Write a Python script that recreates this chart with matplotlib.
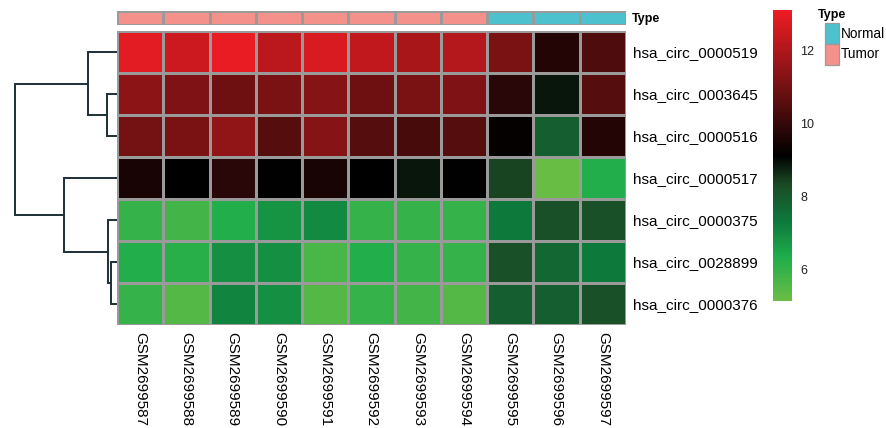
import numpy as np
import matplotlib
matplotlib.use("Agg")
import matplotlib.pyplot as plt
from matplotlib.colors import LinearSegmentedColormap, ListedColormap
from matplotlib.patches import Rectangle

plt.rcParams['font.family'] = ['Liberation Sans', 'DejaVu Sans']

# ---- data -------------------------------------------------------------
samples = ["GSM2699587", "GSM2699588", "GSM2699589", "GSM2699590",
           "GSM2699591", "GSM2699592", "GSM2699593", "GSM2699594",
           "GSM2699595", "GSM2699596", "GSM2699597"]
sample_type = ["Tumor"] * 8 + ["Normal"] * 3
circ_rnas = ["hsa_circ_0000519", "hsa_circ_0003645", "hsa_circ_0000516",
             "hsa_circ_0000517", "hsa_circ_0000375", "hsa_circ_0028899",
             "hsa_circ_0000376"]

expr_0000519 = [12.9, 12.5, 13.0, 12.2, 12.7, 12.3, 11.9, 12.1, 11.1, 9.7, 10.4]
expr_0003645 = [11.4, 11.2, 10.9, 11.1, 11.3, 10.9, 11.1, 11.2, 9.8, 8.9, 10.5]
expr_0000516 = [11.0, 11.1, 11.5, 10.5, 11.3, 10.5, 10.3, 10.5, 9.2, 7.9, 9.7]
expr_0000517 = [9.5, 9.15, 9.8, 9.1, 9.5, 9.15, 8.9, 9.1, 8.4, 5.2, 6.3]
expr_0000375 = [6.0, 5.8, 6.3, 6.8, 7.0, 6.0, 6.0, 6.0, 7.3, 8.2, 8.2]
expr_0028899 = [6.3, 6.2, 6.9, 6.9, 5.7, 6.3, 6.0, 6.0, 8.2, 7.7, 7.3]
expr_0000376 = [6.0, 5.5, 7.1, 6.9, 5.5, 6.0, 5.8, 5.5, 7.9, 7.9, 8.2]

# row clustering: (left, right, height); leaves 0..6, merged nodes 7..
row_merges = [(1, 2, 10), (0, 7, 29), (5, 6, 6), (4, 9, 9), (3, 10, 53), (8, 11, 102)]

colorbar_ticks = [6, 8, 10, 12]
value_range = (5.15, 13.1)

type_levels = ["Normal", "Tumor"]
type_colors = {"Normal": "#4DC1CD", "Tumor": "#F4918A"}

# ---- figure -----------------------------------------------------------
W, H = 886, 428
fig = plt.figure(figsize=(W / 100, H / 100), dpi=100, facecolor="white")

def px_axes(x0, y0, x1, y1):
    return fig.add_axes([x0 / W, 1 - y1 / H, (x1 - x0) / W, (y1 - y0) / H])

matrix = np.array([expr_0000519, expr_0003645, expr_0000516, expr_0000517,
                   expr_0000375, expr_0028899, expr_0000376])
n_rows, n_cols = matrix.shape

cmap = LinearSegmentedColormap.from_list("gbr", [
    (0.00, "#6ABD45"),
    (0.15, "#1FAD4B"),
    (0.27, "#0D7A3C"),
    (0.40, "#1B4A25"),
    (0.50, "#000000"),
    (0.75, "#7A1214"),
    (1.00, "#EE1C24"),
])

grid_col = "#9A9A9A"

# heatmap
ax = px_axes(117, 31, 626, 325)
mesh = ax.pcolormesh(matrix, cmap=cmap, vmin=value_range[0], vmax=value_range[1],
                     edgecolors=grid_col, linewidth=0.75)
ax.set_xlim(0, n_cols)
ax.set_ylim(n_rows, 0)
ax.set_yticks(np.arange(n_rows) + 0.5)
ax.set_yticklabels(circ_rnas, fontsize=11)
ax.yaxis.tick_right()
ax.set_xticks(np.arange(n_cols) + 0.5)
ax.set_xticklabels(samples, rotation=270, fontsize=11, va="top", ha="center")
ax.tick_params(length=0, pad=5)
for s in ax.spines.values():
    s.set_visible(False)

# column annotation bar
ax_ann = px_axes(117, 11, 626, 25)
codes = np.array([[type_levels.index(t) for t in sample_type]])
ax_ann.pcolormesh(codes, cmap=ListedColormap([type_colors[k] for k in type_levels]),
                  vmin=0, vmax=1, edgecolors=grid_col, linewidth=0.9)
ax_ann.set_xlim(0, n_cols)
ax_ann.set_xticks([])
ax_ann.set_yticks([])
for s in ax_ann.spines.values():
    s.set_visible(False)
ax_ann.text(1.0 + 6 / 509, 0.45, "Type", transform=ax_ann.transAxes,
            va="center", ha="left", fontsize=9, fontweight="bold")

# row dendrogram
ax_d = px_axes(10, 31, 117, 325)
pos = {i: i + 0.5 for i in range(n_rows)}
hgt = {i: 0.0 for i in range(n_rows)}
node = n_rows
for a, b, h in row_merges:
    ya, yb = pos[a], pos[b]
    ax_d.plot([hgt[a], h, h, hgt[b]], [ya, ya, yb, yb], color="#1E2F38",
              linewidth=1.4, solid_joinstyle="miter", solid_capstyle="butt")
    pos[node] = (ya + yb) / 2
    hgt[node] = h
    node += 1
ax_d.set_xlim(107, 0)
ax_d.set_ylim(n_rows, 0)
ax_d.axis("off")

# colour scale
cax = px_axes(773, 10, 792, 301)
cb = fig.colorbar(mesh, cax=cax, ticks=colorbar_ticks)
cb.outline.set_visible(False)
cb.ax.tick_params(length=0, labelsize=9, pad=6, colors="#222222")

# type legend: stacked colour keys under a bold title
ax_leg = px_axes(815, 3, 886, 70)
ax_leg.set_xlim(0, 71)
ax_leg.set_ylim(67, 0)
ax_leg.axis("off")
ax_leg.text(3, 12, "Type", fontsize=9, fontweight="bold", ha="left", va="center")
for i, k in enumerate(type_levels):
    ax_leg.add_patch(Rectangle((10, 20 + 21 * i), 14, 21, facecolor=type_colors[k],
                               edgecolor=grid_col, linewidth=0.9))
    ax_leg.text(26, 31 + 20 * i, k, fontsize=9.8, ha="left", va="center",
                clip_on=False)

fig.savefig("out.png", dpi=100, facecolor="white")
